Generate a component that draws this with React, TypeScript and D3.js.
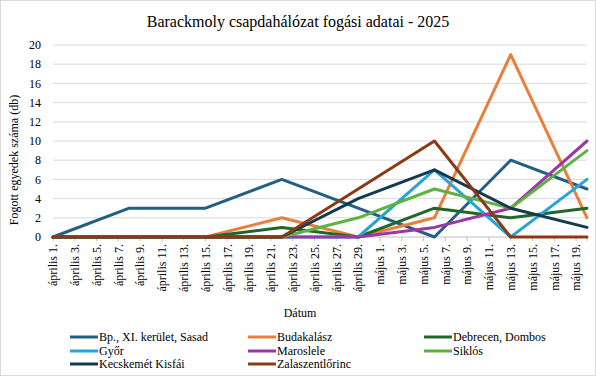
import React from "react";
import * as d3 from "d3";

const tickDates = ["április 1.", "április 3.", "április 5.", "április 7.", "április 9.", "április 11.", "április 13.", "április 15.", "április 17.", "április 19.", "április 21.", "április 23.", "április 25.", "április 27.", "április 29.", "május 1.", "május 3.", "május 5.", "május 7.", "május 9.", "május 11.", "május 13.", "május 15.", "május 17.", "május 19."];
// sampling days (days since április 1.)
const sampleDays = [0, 7, 14, 21, 28, 35, 42, 49];
const yTicks = [0, 2, 4, 6, 8, 10, 12, 14, 16, 18, 20];

const seriesNames = ["Bp., XI. kerület, Sasad", "Budakalász", "Debrecen, Dombos", "Győr", "Maroslele", "Siklós", "Kecskemét Kisfái", "Zalaszentlőrinc"];
const bpSasad = [0, 3, 3, 6, 3, 0, 8, 5];
const budakalasz = [0, 0, 0, 2, 0, 2, 19, 2];
const debrecen = [0, 0, 0, 1, 0, 3, 2, 3];
const gyor = [0, 0, 0, 0, 0, 7, 0, 6];
const maroslele = [0, 0, 0, 0, 0, 1, 3, 10];
const siklos = [0, 0, 0, 0, 2, 5, 3, 9];
const kecskemet = [0, 0, 0, 0, 4, 7, 3, 1];
const zalaszentlorinc = [0, 0, 0, 0, 5, 10, 0, 0];
const seriesValues = [bpSasad, budakalasz, debrecen, gyor, maroslele, siklos, kecskemet, zalaszentlorinc];
const colors = ["#235F80", "#EA7F3C", "#22662C", "#28A5D7", "#9B38A6", "#5EB242", "#143B4D", "#8A3A14"];

const W = 596, H = 376;
const TS = { fontFamily: "Liberation Serif" };

export default function App() {
  const x = d3.scaleLinear().domain([0, 49]).range([53, 587]);
  const y = d3.scaleLinear().domain([0, 20]).range([237, 45]);
  const line = d3.line<number>().x((_, i) => x(sampleDays[i])).y((v) => y(v));
  const legendCols = [70, 248, 424];
  const legendRows = [337, 351, 364];
  return (
    <svg width={W} height={H} style={{ position: "absolute", left: 0, top: 0, background: "#fff" }}>
      <rect x={0.5} y={0.5} width={W - 1} height={H - 1} fill="#fff" stroke="#D9D9D9" />
      <text x={298} y={27} textAnchor="middle" fontSize={16} fill="#000" style={TS}>Barackmoly csapdahálózat fogási adatai - 2025</text>
      {yTicks.map((t) => (
        <g key={t}>
          {t > 0 && <line x1={x(0)} x2={x(49)} y1={y(t)} y2={y(t)} stroke="#D9D9D9" strokeWidth={1} />}
          <text x={41} y={y(t)} dy="0.35em" textAnchor="end" fontSize={12} fill="#000" style={TS}>{t}</text>
        </g>
      ))}
      <line x1={x(0)} x2={x(49)} y1={y(0)} y2={y(0)} stroke="#BFBFBF" strokeWidth={1} />
      {tickDates.map((lab, i) => (
        <g key={lab}>
          <line x1={x(i * 2)} x2={x(i * 2)} y1={y(0)} y2={y(0) + 4} stroke="#BFBFBF" />
          <text transform={`translate(${x(i * 2)},${244}) rotate(-90)`} textAnchor="end" dy="0.35em" fontSize={12} fill="#000" style={TS}>{lab}</text>
        </g>
      ))}
      <line x1={x(49)} x2={x(49)} y1={y(0)} y2={y(0) + 4} stroke="#BFBFBF" />
      <text transform={`translate(14,160) rotate(-90)`} textAnchor="middle" dy="0.35em" fontSize={12} fill="#000" style={TS}>Fogott egyedek száma (db)</text>
      <text x={300} y={313} dy="0.35em" textAnchor="middle" fontSize={12} fill="#000" style={TS}>Dátum</text>
      {seriesValues.map((vals, si) => (
        <path key={si} d={line(vals) || ""} fill="none" stroke={colors[si]} strokeWidth={3} strokeLinejoin="round" strokeLinecap="round" />
      ))}
      {seriesNames.map((name, si) => {
        const cx = legendCols[si % 3];
        const cy = legendRows[Math.floor(si / 3)];
        return (
          <g key={name}>
            <line x1={cx} x2={cx + 28} y1={cy} y2={cy} stroke={colors[si]} strokeWidth={3} />
            <text x={cx + 29} y={cy} dy="0.35em" fontSize={12} fill="#000" style={TS}>{name}</text>
          </g>
        );
      })}
    </svg>
  );
}
